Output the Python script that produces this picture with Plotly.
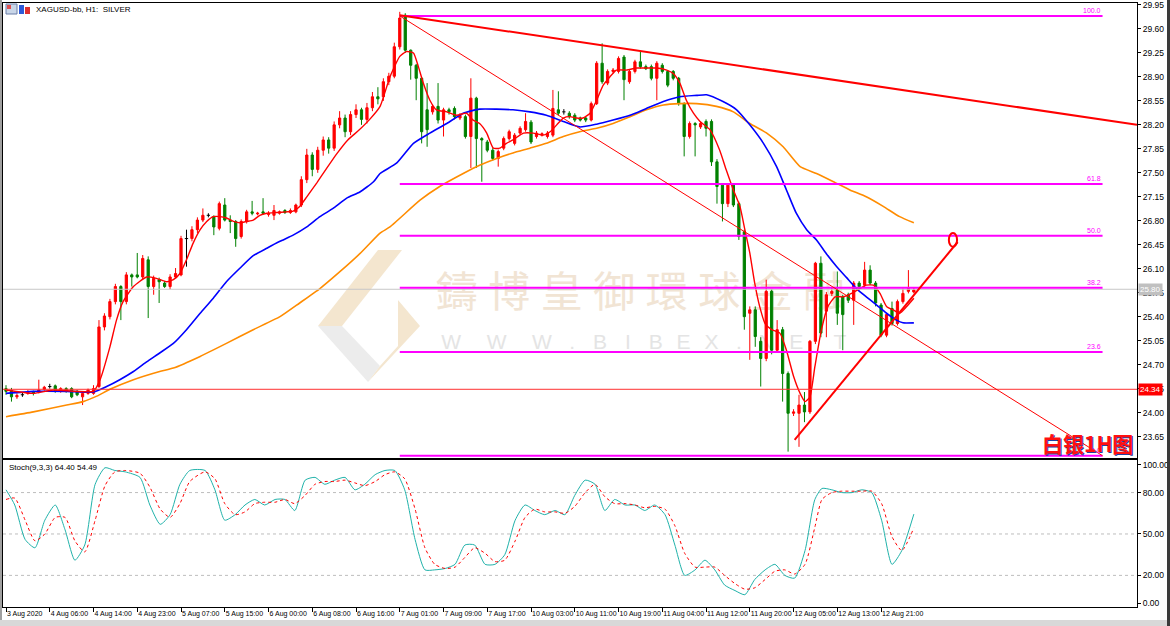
import plotly.graph_objects as go

# ---------------- data ----------------
time_labels = ["3 Aug 2020", "4 Aug 06:00", "4 Aug 14:00", "4 Aug 23:00", "5 Aug 07:00",
               "5 Aug 15:00", "6 Aug 00:00", "6 Aug 08:00", "6 Aug 16:00", "7 Aug 01:00",
               "7 Aug 09:00", "7 Aug 17:00", "10 Aug 03:00", "10 Aug 11:00", "10 Aug 19:00",
               "11 Aug 04:00", "11 Aug 12:00", "11 Aug 20:00", "12 Aug 05:00", "12 Aug 13:00",
               "12 Aug 21:00"]
label_bars = [0, 8, 16, 24, 32, 40, 48, 56, 64, 72, 80, 88, 96, 104, 112, 120, 128, 136, 144, 152, 160]

opens = [24.35, 24.32, 24.23, 24.26, 24.28, 24.30, 24.30, 24.34, 24.38, 24.39,
         24.31, 24.35, 24.35, 24.31, 24.23, 24.28, 24.28, 24.38, 25.25, 25.40,
         25.62, 25.84, 25.62, 26.01, 26.01, 25.98, 26.23, 25.84, 25.94, 25.89,
         25.84, 25.98, 26.01, 26.54, 26.54, 26.67, 26.81, 26.88, 26.86, 26.69,
         27.03, 26.81, 26.79, 26.57, 26.79, 26.93, 26.90, 26.93, 26.89, 26.88,
         26.91, 26.95, 26.92, 26.93, 27.03, 27.40, 27.76, 27.55, 27.83, 27.98,
         27.86, 28.20, 28.30, 28.10, 28.35, 28.42, 28.28, 28.45, 28.61, 28.61,
         28.83, 28.91, 29.34, 29.80, 29.29, 29.07, 28.88, 28.42, 28.39, 28.47,
         28.27, 28.42, 28.44, 28.30, 28.32, 28.03, 28.59, 28.00, 27.95, 27.83,
         27.71, 27.86, 28.00, 27.93, 28.08, 28.13, 28.24, 28.03, 28.05, 28.03,
         28.05, 28.42, 28.39, 28.37, 28.34, 28.30, 28.30, 28.27, 28.51, 29.10,
         28.81, 28.98, 28.98, 29.19, 28.83, 28.98, 29.12, 29.05, 29.05, 28.88,
         29.07, 28.98, 28.98, 28.88, 28.51, 28.03, 28.22, 28.17, 28.25, 28.25,
         27.66, 27.32, 27.05, 27.32, 27.05, 26.64, 25.45, 25.50, 25.04, 24.79,
         25.77, 24.91, 25.21, 24.57, 23.99, 23.99, 24.11, 24.01, 25.04, 26.18,
         25.48, 25.74, 25.79, 25.69, 25.72, 25.64, 25.89, 25.86, 26.08, 25.89,
         25.57, 25.13, 25.52, 25.30, 25.62, 25.77, 25.76]
highs = [24.40, 24.36, 24.28, 24.29, 24.33, 24.32, 24.48, 24.39, 24.42, 24.41,
         24.37, 24.37, 24.37, 24.33, 24.30, 24.35, 24.40, 25.35, 25.45, 25.66,
         25.88, 25.86, 26.05, 26.03, 26.33, 26.30, 26.28, 26.00, 25.97, 25.92,
         26.02, 26.11, 26.58, 26.67, 26.72, 26.85, 26.98, 26.91, 26.88, 27.08,
         27.13, 26.88, 26.81, 26.82, 26.96, 27.09, 26.93, 27.13, 26.94, 27.03,
         26.95, 26.97, 26.98, 27.05, 27.45, 27.85, 27.80, 27.88, 28.03, 28.02,
         28.25, 28.40, 28.35, 28.40, 28.50, 28.45, 28.52, 28.68, 28.75, 28.88,
         28.96, 29.40, 29.85, 29.83, 29.30, 29.09, 28.90, 28.81, 28.50, 28.81,
         28.45, 28.45, 28.47, 28.37, 28.35, 28.88, 28.61, 28.02, 27.98, 27.86,
         27.84, 28.03, 28.13, 28.08, 28.18, 28.37, 28.27, 28.11, 28.09, 28.11,
         28.71, 28.69, 28.43, 28.40, 28.37, 28.32, 28.32, 28.54, 29.13, 29.39,
         29.01, 29.03, 29.20, 29.22, 29.01, 29.15, 29.27, 29.08, 29.08, 29.13,
         29.10, 29.00, 29.00, 28.90, 28.53, 28.25, 28.24, 28.25, 28.28, 28.28,
         27.70, 27.35, 27.35, 27.35, 27.08, 26.67, 25.55, 25.55, 25.10, 25.94,
         25.80, 25.35, 25.25, 24.60, 24.05, 24.26, 24.30, 25.06, 26.20, 26.28,
         25.76, 25.82, 26.06, 25.72, 25.75, 25.92, 25.92, 26.20, 26.15, 25.92,
         25.60, 25.46, 25.62, 25.65, 25.81, 26.08, 25.82]
lows = [24.26, 24.16, 24.20, 24.23, 24.26, 24.25, 24.28, 24.32, 24.35, 24.29,
        24.29, 24.29, 24.21, 24.24, 24.11, 24.26, 24.26, 24.36, 25.20, 25.36,
        25.58, 25.35, 25.58, 25.84, 25.96, 25.94, 25.38, 25.72, 25.60, 25.82,
        25.80, 25.96, 25.99, 26.13, 26.50, 26.62, 26.78, 26.85, 26.59, 26.66,
        26.79, 26.62, 26.42, 26.54, 26.76, 26.88, 26.88, 26.89, 26.86, 26.81,
        26.89, 26.90, 26.90, 26.91, 27.00, 27.35, 27.45, 27.50, 27.75, 27.78,
        27.82, 28.15, 28.02, 28.05, 28.30, 28.20, 28.22, 28.40, 28.50, 28.55,
        28.78, 28.88, 29.30, 29.25, 28.86, 28.56, 27.93, 27.88, 28.35, 28.22,
        28.03, 28.35, 28.28, 28.27, 28.00, 27.57, 27.57, 27.37, 27.80, 27.68,
        27.59, 27.83, 27.97, 27.90, 28.05, 28.10, 27.92, 28.00, 28.03, 28.00,
        28.02, 28.34, 28.35, 28.29, 28.24, 28.25, 28.24, 28.25, 28.49, 28.80,
        28.78, 28.95, 28.95, 28.56, 28.80, 28.95, 29.02, 29.00, 28.85, 28.56,
        28.95, 28.75, 28.85, 28.48, 27.74, 28.00, 27.74, 28.14, 28.03, 27.60,
        27.05, 26.79, 27.00, 27.00, 26.52, 25.21, 24.77, 24.96, 24.38, 24.75,
        24.85, 24.88, 24.16, 23.43, 23.95, 23.50, 23.86, 23.98, 25.00, 25.10,
        25.10, 25.70, 25.28, 24.91, 25.60, 25.28, 25.80, 25.83, 25.86, 25.55,
        25.10, 25.10, 25.27, 25.27, 25.59, 25.74, 25.74]
closes = [24.31, 24.23, 24.25, 24.26, 24.30, 24.28, 24.33, 24.37, 24.38, 24.31,
          24.35, 24.31, 24.23, 24.26, 24.28, 24.33, 24.35, 25.25, 25.41, 25.62,
          25.84, 25.62, 26.01, 25.98, 25.98, 26.25, 25.84, 25.96, 25.91, 25.84,
          25.98, 26.03, 26.54, 26.54, 26.67, 26.81, 26.88, 26.88, 26.71, 27.05,
          26.81, 26.79, 26.54, 26.79, 26.93, 26.91, 26.91, 26.91, 26.91, 26.95,
          26.93, 26.92, 26.95, 27.03, 27.40, 27.76, 27.55, 27.83, 27.98, 27.86,
          28.20, 28.30, 28.10, 28.35, 28.42, 28.28, 28.45, 28.61, 28.58, 28.83,
          28.91, 29.34, 29.76, 29.29, 29.07, 28.88, 28.10, 28.13, 28.47, 28.27,
          28.42, 28.39, 28.32, 28.34, 28.03, 28.59, 28.00, 27.98, 27.83, 27.71,
          27.81, 28.00, 28.10, 28.05, 28.15, 28.25, 27.95, 28.08, 28.07, 28.08,
          28.44, 28.37, 28.39, 28.32, 28.27, 28.27, 28.27, 28.51, 29.10, 28.83,
          28.98, 29.00, 29.17, 28.86, 28.98, 29.12, 29.05, 29.02, 28.88, 29.10,
          28.98, 28.78, 28.88, 28.51, 28.03, 28.22, 28.20, 28.22, 28.15, 27.66,
          27.30, 27.05, 27.32, 27.03, 26.57, 25.40, 25.50, 25.11, 24.79, 25.77,
          24.91, 25.21, 24.57, 23.99, 24.01, 24.11, 24.01, 25.04, 26.18, 25.16,
          25.72, 25.77, 25.45, 25.43, 25.64, 25.89, 25.84, 26.08, 25.89, 25.60,
          25.13, 25.43, 25.30, 25.62, 25.74, 25.81, 25.79]

# moving averages: (bar, price)
ma_fast_bar = [0, 5, 8.6, 16, 17.2, 19, 20.2, 21.4, 23.3, 25.7, 27.5, 29.4, 30.6, 31.8, 33, 34.2,
               35.5, 36.7, 37.9, 39.1, 40.3, 41.6, 42.8, 44, 45.2, 46.4, 47.7, 49.5, 51.3, 52.5,
               53.7, 55, 56.8, 58.5, 60.5, 62.5, 64.5, 66.5, 68.4, 70.2, 72, 73.2, 74.5, 75.4,
               76.3, 77.5, 78.7, 80.6, 82.4, 84.2, 85.4, 86.6, 87.9, 89.1, 90.3, 91.5, 92.7,
               94.6, 96.4, 98.2, 99.5, 100.7, 101.9, 103.1, 104.3, 105.5, 106.8, 108, 109.2,
               110.4, 111.6, 113.5, 115.3, 117.1, 119, 120.8, 122, 123.2, 124.4, 125.7, 126.9,
               128.7, 130.5, 131.7, 133, 134.2, 135.1, 136, 136.9, 137.8, 138.8, 140, 141.5,
               142.7, 144, 145.2, 146.1, 147, 147.9, 149.1, 150.3, 151.6, 153.1, 154.6, 156.1,
               157.3, 158.6, 159.8, 161, 162.2, 163.4, 164.7, 166]
ma_fast_val = [24.33, 24.28, 24.33, 24.31, 24.48, 24.96, 25.35, 25.62, 25.84, 25.98, 25.96, 25.91,
               25.94, 26.03, 26.23, 26.47, 26.67, 26.79, 26.86, 26.86, 26.84, 26.79, 26.77, 26.79,
               26.81, 26.88, 26.91, 26.92, 26.93, 26.94, 27.01, 27.15, 27.35, 27.55, 27.78,
               27.98, 28.12, 28.28, 28.47, 28.90, 29.20, 29.27, 29.25, 29.05, 28.81, 28.56,
               28.42, 28.39, 28.34, 28.37, 28.27, 28.22, 28.08, 27.86, 27.86, 27.93, 27.98,
               28.08, 28.08, 28.05, 28.10, 28.20, 28.30, 28.32, 28.30, 28.30, 28.37, 28.56,
               28.78, 28.90, 29.00, 29.00, 29.03, 29.03, 29.03, 29.00, 28.95, 28.81, 28.56,
               28.37, 28.25, 28.13, 27.83, 27.54, 27.25, 27.01, 26.67, 26.33, 25.89, 25.55,
               25.30, 25.21, 25.16, 24.91, 24.53, 24.28, 24.16, 24.23, 24.67, 25.21, 25.55,
               25.69, 25.69, 25.74, 25.81, 25.86, 25.86, 25.74, 25.55, 25.50, 25.45, 25.55, 25.67]

ma_mid_bar = [0, 5, 11.1, 16, 18.4, 20.8, 23.3, 25.7, 28.1, 30.6, 33, 35.5, 37.9, 40.3, 42.8, 45.2,
              47.7, 50.1, 52.5, 55, 57.4, 59.8, 62.3, 64.7, 67.2, 68.4, 71.4, 74.5, 77.5, 80.6,
              83.6, 86.6, 89.7, 92.7, 95.8, 98.8, 101.9, 104.9, 108, 111, 114.1, 117.1, 120.2,
              123.2, 126.3, 128.1, 131.1, 133.6, 136, 138.5, 140.9, 142.7, 144.5, 146.4, 148.2,
              150, 151.9, 153.7, 155.5, 157.3, 159.2, 161, 162.8, 164, 166]
ma_mid_val = [24.28, 24.31, 24.31, 24.30, 24.38, 24.48, 24.60, 24.74, 24.87, 25.01, 25.21, 25.45,
              25.67, 25.91, 26.11, 26.29, 26.40, 26.50, 26.59, 26.71, 26.86, 26.98, 27.13, 27.22,
              27.37, 27.49, 27.64, 27.93, 28.08, 28.22, 28.37, 28.43, 28.43, 28.42, 28.39, 28.34,
              28.25, 28.17, 28.21, 28.27, 28.34, 28.44, 28.54, 28.61, 28.63, 28.64, 28.54, 28.42,
              28.20, 27.93, 27.59, 27.25, 26.91, 26.67, 26.52, 26.32, 26.13, 25.97, 25.81, 25.69,
              25.57, 25.45, 25.35, 25.31, 25.31]

ma_slow_bar = [0, 5, 11.1, 14.1, 16.6, 19, 23.3, 28.1, 30.6, 35.5, 40.3, 45.2, 50.1, 53.7, 57.4,
               61.1, 64.7, 68.4, 70.2, 75.7, 79.3, 83.6, 86.6, 89.7, 92.7, 95.8, 98.8, 101.9,
               104.9, 108, 111, 114.1, 117.1, 120.2, 123.2, 126.3, 129.9, 133, 136, 139.1, 142.1,
               145.2, 148.2, 151.3, 154.3, 157.3, 160.4, 163.4, 166]
ma_slow_val = [23.94, 24.01, 24.11, 24.16, 24.24, 24.34, 24.48, 24.60, 24.65, 24.82, 25.01, 25.21,
               25.40, 25.60, 25.81, 26.06, 26.32, 26.62, 26.71, 27.10, 27.30, 27.49, 27.61, 27.71,
               27.79, 27.86, 27.93, 28.03, 28.10, 28.15, 28.22, 28.32, 28.42, 28.49, 28.51, 28.51,
               28.47, 28.39, 28.22, 28.08, 27.88, 27.59, 27.49, 27.37, 27.25, 27.15, 27.01, 26.86,
               26.77]

# stochastic (9,3,3)
stoch_bar = [0.0, 1.6, 3.5, 5.3, 7.1, 9.0, 10.8, 12.6, 14.4, 16.3, 18.1, 19.9, 21.8, 24.5, 26.3,
             28.2, 30.0, 31.8, 33.6, 36.4, 38.2, 40.0, 41.9, 43.7, 45.5, 47.3, 49.2, 51.0, 52.8,
             54.7, 56.5, 58.3, 60.1, 62.0, 63.8, 65.6, 67.5, 69.3, 71.1, 72.9, 74.8, 76.6, 78.4,
             80.3, 82.1, 83.9, 85.7, 87.6, 89.4, 91.2, 93.1, 94.9, 96.7, 98.5, 100.4, 102.2,
             104.0, 105.9, 107.7, 109.5, 111.3, 113.2, 115.0, 116.8, 118.6, 120.5, 122.3, 124.1,
             126.0, 127.8, 129.6, 131.4, 133.3, 135.1, 136.9, 138.8, 140.6, 142.4, 144.2, 146.1,
             147.9, 149.2, 151.0, 152.8, 154.7, 156.5, 158.3, 160.1, 162.0, 163.8, 166.0]
stoch_k = [82, 71, 46, 40, 60, 71, 53, 31, 42, 86, 98, 96, 95, 91, 71, 57, 64, 86, 96, 96,
           82, 60, 64, 71, 75, 71, 75, 75, 67, 89, 91, 86, 89, 91, 82, 86, 93, 96, 96, 82,
           46, 24, 24, 25, 28, 42, 42, 28, 28, 35, 60, 71, 67, 64, 67, 64, 78, 89, 86, 67,
           75, 71, 71, 67, 71, 64, 42, 20, 24, 31, 24, 13, 9, 6, 17, 24, 28, 20, 18, 38,
           75, 83, 82, 80, 80, 82, 80, 60, 28, 38, 64.40]
stoch_d = [75, 76, 60, 45, 50, 62, 62, 45, 37, 60, 85, 95, 96, 94, 84, 68, 62, 72, 88, 95,
           90, 72, 64, 66, 72, 73, 73, 75, 72, 78, 86, 88, 88, 89, 87, 85, 88, 93, 95, 90,
           68, 40, 28, 25, 26, 33, 40, 36, 30, 31, 45, 62, 68, 66, 66, 65, 70, 80, 86, 77,
           72, 72, 71, 69, 70, 68, 56, 36, 26, 26, 26, 20, 14, 10, 11, 17, 23, 24, 21, 28,
           55, 75, 80, 81, 81, 81, 81, 72, 48, 38, 54.49]
stoch_levels = [20, 50, 80]

# drawing objects
fib_bars = [72, 200.5]
fib_high, fib_low = 29.79, 23.37
fib_levels = [100.0, 61.8, 50.0, 38.2, 23.6, 0.0]
res_bars, res_prices = [72, 206.8], [29.80, 28.20]
sup_bars, sup_prices = [144.2, 174.0], [23.60, 26.49]
red_level = 24.34
bid_price = 25.80

price_ticks = [29.95, 29.60, 29.25, 28.90, 28.55, 28.20, 27.85, 27.50, 27.15, 26.80, 26.45,
               26.10, 25.75, 25.40, 25.05, 24.70, 24.35, 24.00, 23.65]

# ---------------- layout geometry ----------------
W, H = 1170, 626
ML, MR, MT, MB = 3, 33, 3, 19
PW, PH = W - ML - MR, H - MT - MB


def px(x):
    return (x - ML) / PW


def py(y):
    return (H - MB - y) / PH


main_dom = [py(458), 1.0]
stoch_dom = [0.0, py(460)]
xr = [-0.55, 206.8]
yr_main = [23.337, 29.979]
yr_stoch = [-2.9, 103.6]

RED, GREEN = "#FF0000", "#008000"
MAG = "#FF00FF"
FONT = "Liberation Sans"

fig = go.Figure()

# watermark (base subplot, drawn beneath everything)
wm_chars = list("鑄博皇御環球金融")
wm_x = [82.4 + 9.6 * i for i in range(len(wm_chars))]
fig.add_trace(go.Scatter(x=wm_x, y=[25.69] * len(wm_chars), mode="text", text=wm_chars,
                         textfont=dict(family="Noto Sans CJK TC", size=42, color="#F1E4D4"),
                         xaxis="x", yaxis="y", hoverinfo="skip", showlegend=False))
www_chars = list("WWW.BIBEX.NET")
www_x = [81.4, 89.7, 98.0, 103.5, 108.6, 113.7, 118.8, 123.9, 129.0, 134.0, 139.0, 144.5, 152.5]
fig.add_trace(go.Scatter(x=www_x, y=[25.0] * len(www_chars), mode="text", text=www_chars,
                         textfont=dict(family=FONT, size=21, color="#E4E4E4"),
                         xaxis="x", yaxis="y", hoverinfo="skip", showlegend=False))

# candles (overlay subplot)
bars = list(range(len(opens)))
cx = [b for b in bars if opens[b] != closes[b]]
fig.add_trace(go.Candlestick(
    x=cx, open=[opens[b] for b in cx], high=[highs[b] for b in cx],
    low=[lows[b] for b in cx], close=[closes[b] for b in cx],
    increasing=dict(line=dict(color=RED, width=1), fillcolor=RED),
    decreasing=dict(line=dict(color=GREEN, width=1), fillcolor=GREEN),
    whiskerwidth=0, xaxis="x3", yaxis="y3", hoverinfo="skip", showlegend=False))
dx, dy = [], []
for b in bars:
    if opens[b] == closes[b]:
        dx += [b, b, None, b - 0.3, b + 0.3, None]
        dy += [lows[b], highs[b], None, opens[b], opens[b], None]
fig.add_trace(go.Scatter(x=dx, y=dy, mode="lines", line=dict(color="black", width=1),
                         xaxis="x3", yaxis="y3", hoverinfo="skip", showlegend=False))

# moving averages
for bx, by, col, w in [(ma_slow_bar, ma_slow_val, "#FF8C00", 1.6),
                       (ma_mid_bar, ma_mid_val, "#0000FF", 1.6),
                       (ma_fast_bar, ma_fast_val, RED, 1.4)]:
    fig.add_trace(go.Scatter(x=bx, y=by, mode="lines",
                             line=dict(color=col, width=w, shape="spline", smoothing=0.5),
                             xaxis="x3", yaxis="y3", hoverinfo="skip", showlegend=False))

# horizontal lines
fig.add_trace(go.Scatter(x=xr, y=[bid_price] * 2, mode="lines", line=dict(color="#C8C8C8", width=1),
                         xaxis="x3", yaxis="y3", hoverinfo="skip", showlegend=False))
fig.add_trace(go.Scatter(x=xr, y=[red_level] * 2, mode="lines", line=dict(color="#FF3030", width=1),
                         xaxis="x3", yaxis="y3", hoverinfo="skip", showlegend=False))

# fibonacci
for lv in fib_levels:
    p = fib_low + (fib_high - fib_low) * lv / 100.0
    fig.add_trace(go.Scatter(x=fib_bars, y=[p, p], mode="lines", line=dict(color=MAG, width=2),
                             xaxis="x3", yaxis="y3", hoverinfo="skip", showlegend=False))
    fig.add_annotation(x=fib_bars[1], y=p, xref="x3", yref="y3", text=f"{lv:.1f}",
                       showarrow=False, xanchor="right", yanchor="bottom", yshift=0,
                       font=dict(family=FONT, size=7, color=MAG))
fig.add_trace(go.Scatter(x=fib_bars, y=[fib_high, fib_low], mode="lines",
                         line=dict(color=RED, width=1), xaxis="x3", yaxis="y3",
                         hoverinfo="skip", showlegend=False))

# trend lines
fig.add_trace(go.Scatter(x=res_bars, y=res_prices, mode="lines", line=dict(color=RED, width=2),
                         xaxis="x3", yaxis="y3", hoverinfo="skip", showlegend=False))
fig.add_trace(go.Scatter(x=sup_bars, y=sup_prices, mode="lines", line=dict(color=RED, width=2),
                         xaxis="x3", yaxis="y3", hoverinfo="skip", showlegend=False))

# stochastic
fig.add_trace(go.Scatter(x=stoch_bar, y=stoch_k, mode="lines",
                         line=dict(color="#20B2AA", width=1, shape="spline", smoothing=0.6),
                         xaxis="x2", yaxis="y2", hoverinfo="skip", showlegend=False))
fig.add_trace(go.Scatter(x=stoch_bar, y=stoch_d, mode="lines",
                         line=dict(color=RED, width=1, dash="dot", shape="spline", smoothing=0.6),
                         xaxis="x2", yaxis="y2", hoverinfo="skip", showlegend=False))

shapes = []
for lv in stoch_levels:
    shapes.append(dict(type="line", xref="x2", yref="y2", x0=xr[0], x1=xr[1], y0=lv, y1=lv,
                       line=dict(color="#BDBDBD", width=1, dash="dot"), layer="below"))

# ellipse marker "0"
shapes.append(dict(type="circle", xref="x3", yref="y3", x0=172.4, x1=173.9, y0=26.42, y1=26.62,
                   line=dict(color=RED, width=2)))

# logo (beige diamond) in pixel space
def poly(pts):
    s = "M " + " L ".join(f"{px(a):.5f},{py(b):.5f}" for a, b in pts) + " Z"
    return s

shapes.append(dict(type="path", xref="paper", yref="paper", path=poly([(378, 250), (402, 250), (342, 326), (318, 326)]),
                   fillcolor="#F4E6CF", line=dict(width=0), layer="below"))
shapes.append(dict(type="path", xref="paper", yref="paper", path=poly([(318, 326), (342, 326), (380, 366), (368, 382)]),
                   fillcolor="#ECECEC", line=dict(width=0), layer="below"))
shapes.append(dict(type="path", xref="paper", yref="paper", path=poly([(398, 300), (420, 326), (368, 382), (380, 366), (398, 346)]),
                   fillcolor="#F4E6CF", line=dict(width=0), layer="below"))

# window frame bits
shapes.append(dict(type="rect", xref="paper", yref="paper", x0=px(0), x1=px(2), y0=py(626), y1=py(0),
                   fillcolor="#A0A0A0", line=dict(width=0)))
shapes.append(dict(type="rect", xref="paper", yref="paper", x0=px(1167), x1=px(1170), y0=py(626), y1=py(0),
                   fillcolor="#3A3A3A", line=dict(width=0)))
shapes.append(dict(type="rect", xref="paper", yref="paper", x0=px(0), x1=px(1167), y0=py(626), y1=py(620),
                   fillcolor="#D8D8D8", line=dict(width=0)))
# icons
shapes.append(dict(type="rect", xref="paper", yref="paper", x0=px(6), x1=px(17), y0=py(14), y1=py(4),
                   fillcolor="#C9D6E8", line=dict(color="#6A7FA8", width=1)))
shapes.append(dict(type="rect", xref="paper", yref="paper", x0=px(7), x1=px(11), y0=py(9), y1=py(5),
                   fillcolor="#E05050", line=dict(width=0)))
shapes.append(dict(type="rect", xref="paper", yref="paper", x0=px(19), x1=px(24), y0=py(14), y1=py(5),
                   fillcolor="#2E5BD8", line=dict(width=0)))
shapes.append(dict(type="rect", xref="paper", yref="paper", x0=px(25), x1=px(30), y0=py(14), y1=py(7),
                   fillcolor="#E03030", line=dict(width=0)))

ann = [
    dict(x=px(34), y=py(9), xref="paper", yref="paper", text="XAGUSD-bb, H1:  SILVER", showarrow=False,
         xanchor="left", yanchor="middle", font=dict(family=FONT, size=8, color="black")),
    dict(x=px(7), y=py(467), xref="paper", yref="paper", text="Stoch(9,3,3) 64.40 54.49", showarrow=False,
         xanchor="left", yanchor="middle", font=dict(family=FONT, size=8, color="black")),
    dict(x=1.0, y=red_level, xref="paper", yref="y3", text="24.34", showarrow=False, xanchor="left",
         yanchor="middle", xshift=1, bgcolor=RED, borderpad=1, font=dict(family=FONT, size=8, color="white")),
    dict(x=1.0, y=bid_price, xref="paper", yref="y3", text="25.80", showarrow=False, xanchor="left",
         yanchor="middle", xshift=1, bgcolor="#C0C0C0", borderpad=1, font=dict(family=FONT, size=8, color="white")),
    dict(x=px(1087), y=py(443), xref="paper", yref="paper", text="<b>白银1H图</b>", showarrow=False,
         xanchor="center", yanchor="middle", xshift=1.5, yshift=-1.5,
         font=dict(family="Noto Sans CJK SC", size=21, color="#2040A0")),
    dict(x=px(1087), y=py(443), xref="paper", yref="paper", text="<b>白银1H图</b>", showarrow=False,
         xanchor="center", yanchor="middle",
         font=dict(family="Noto Sans CJK SC", size=21, color="#FF1010")),
]
fig.update_layout(annotations=fig.layout.annotations + tuple(ann))

axis_common = dict(showgrid=False, zeroline=False, showline=True, linecolor="black", linewidth=1,
                   mirror=True, automargin=False)
fig.update_layout(
    width=W, height=H, margin=dict(l=ML, r=MR, t=MT, b=MB, autoexpand=False),
    paper_bgcolor="white", plot_bgcolor="white", showlegend=False,
    boxgap=0.42,
    shapes=shapes,
    xaxis=dict(domain=[0, 1], anchor="y", range=xr, showticklabels=False, ticks="",
               rangeslider=dict(visible=False), **axis_common),
    yaxis=dict(domain=main_dom, anchor="x", side="right", range=yr_main, tickvals=price_ticks,
               ticktext=[f"{v:.2f}" for v in price_ticks], ticks="outside", ticklen=3,
               ticklabeloverflow="allow",
               tickcolor="black", tickfont=dict(family=FONT, size=8.5, color="black"), **axis_common),
    xaxis3=dict(overlaying="x", anchor="y3", range=xr, visible=False, rangeslider=dict(visible=False)),
    yaxis3=dict(overlaying="y", anchor="x3", range=yr_main, visible=False),
    xaxis2=dict(domain=[0, 1], anchor="y2", range=xr, tickvals=label_bars, ticktext=time_labels,
                ticks="outside", ticklen=4, tickcolor="black", ticklabelposition="outside right",
                tickangle=0, tickfont=dict(family=FONT, size=7, color="black"), **axis_common),
    yaxis2=dict(domain=stoch_dom, anchor="x2", side="right", range=yr_stoch,
                tickvals=[0, 20, 50, 80, 100], ticktext=["0.00", "20.00", "50.00", "80.00", "100.00"],
                ticks="outside", ticklen=3, tickcolor="black", ticklabeloverflow="allow",
                tickfont=dict(family=FONT, size=8.5, color="black"), **axis_common),
)

fig.write_html("out.html", config={"displayModeBar": False},
               post_script="document.body.style.margin='0';document.body.style.overflow='hidden';")
